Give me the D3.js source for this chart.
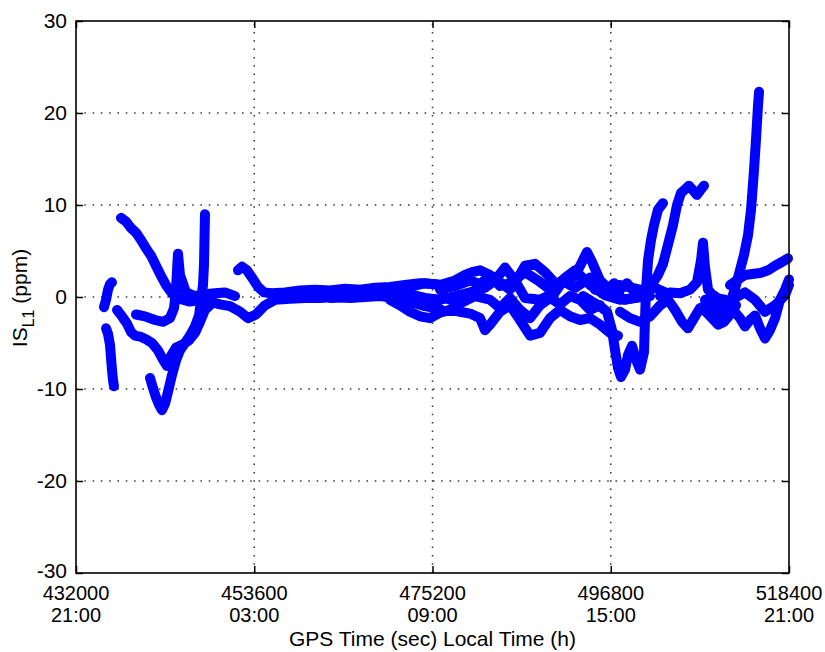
<!DOCTYPE html>
<html>
<head>
<meta charset="utf-8">
<script src="https://cdn.jsdelivr.net/npm/d3@7"></script>
<style>
  body { margin: 0; background: #fff; }
  text { font-family: "Liberation Sans", Arial, Helvetica, sans-serif; }
</style>
</head>
<body>
<svg id="chart" width="825" height="652"></svg>
<script>
// Axis ticks
const xTickValues = [432000, 453600, 475200, 496800, 518400];
const xTickLocal  = ["21:00", "03:00", "09:00", "15:00", "21:00"];
const yTickValues = [-30, -20, -10, 0, 10, 20, 30];

// IS_L1 tracks: GPS time (s) and value (ppm)
const t1Time = [437450,438060,438660,439270,439880,440480,441090,441690,442300,442910,443630,444600,445810,447030,448240,449450,450660,451870,452840,453810,454900,456110,457930,459750,461570,463390,465200,467020,468840,470660,472470,474290,476110];
const t1Is   = [8.6,8.2,7.5,7.0,6.2,5.3,4.5,3.4,2.3,1.3,0.4,-0.2,-0.5,-0.3,-0.5,-0.8,-1.0,-1.6,-2.3,-1.9,-0.9,-0.3,-0.2,-0.1,-0.1,0.0,-0.1,0.0,0.1,-0.1,-0.5,-1.0,-1.3];

const t2Time = [440970,441330,441690,442060,442420,442790,443150,443630,444120,444600,445210,445810,446420,446910,447150,447390,447510,447570,447630];
const t2Is   = [-8.8,-9.9,-10.9,-11.7,-12.3,-11.6,-10.3,-8.5,-6.9,-5.8,-5.0,-4.2,-3.2,-2.0,-0.3,1.3,3.5,6.2,9.0];

const t3Time = [439270,440360,441570,442540,443390,443880,444120,444240,444360,444600,445330,446420,447630,448840,450060,451270];
const t3Is   = [-1.9,-2.1,-2.5,-2.7,-2.3,-1.2,0.8,2.9,4.7,2.4,0.5,0.1,0.3,0.4,0.5,0.1];

const t4Time = [451630,452120,452720,453330,454060,454780,455750,457330,459140,460960,462780,464600,466420,468230,470050,471870,473690,475500,477320];
const t4Is   = [2.9,3.3,2.9,2.1,1.1,0.5,0.4,0.5,0.7,0.8,0.7,0.9,0.8,1.0,1.1,1.3,1.5,1.4,1.2];

const t5Time = [435640,435880,436120,436240,436360,436480,436600];
const t5Is   = [-3.4,-4.0,-5.2,-6.6,-7.9,-9.0,-9.7];

const t6Time = [435390,435640,435880,436120,436360];
const t6Is   = [-1.1,-0.3,0.8,1.4,1.6];

const t7Time = [436970,437570,438180,438660,439150,439760,440480,441210,441940,442540,443030,443510,444120,444850,445690,446420,447030,447630,448480];
const t7Is   = [-1.4,-2.1,-2.9,-3.8,-4.2,-4.3,-4.6,-5.0,-5.8,-6.8,-7.5,-6.4,-5.5,-5.2,-4.7,-3.9,-2.7,-1.4,-0.7];

const t8Time = [468840,470660,472470,474290,476110,477930,479140,479990,480960,482170,483380,484590,485560,486410,487620,488830,490050,491260,492470,493320,493920,494530,495500,496710,497920];
const t8Is   = [0.5,0.8,1.1,1.5,1.3,1.8,2.4,2.7,2.9,2.4,1.6,0.8,2.1,3.4,3.6,2.7,1.5,1.6,2.3,3.8,4.9,3.8,1.8,0.8,0.1];

const t9Time = [470050,471260,472470,473690,474900,476110,477320,478530,479750,480960,481560,482170,483380,484590,485800,487020,488230,489440,490650,491860,493080,494290,495500,496710,497680];
const t9Is   = [-0.3,-0.9,-1.6,-2.1,-2.3,-1.7,-1.4,-1.6,-1.8,-2.3,-3.6,-3.0,-1.6,-0.9,-2.5,-4.2,-3.9,-2.3,-1.4,-2.1,-2.5,-2.3,-3.0,-3.9,-4.2];

const t10Time = [462780,465200,467630,470050,472470,474290,476110,477930,479750,481560,482770,483990,485200,486410,488230,490050,491260,492470,494290,496100,497920,499740,501560];
const t10Is   = [-0.1,0.0,0.2,0.4,0.3,-0.1,-0.3,0.1,0.5,1.0,1.8,3.2,1.8,-0.1,-0.3,0.5,2.1,2.9,1.3,0.2,-0.3,-0.1,0.1];

const t11Time = [493440,494530,495500,496350,496950,497320,497680,498040,498530,498890,499380,499860,500350,500830,500950,501070,501320,501680,502040,502530,503130];
const t11Is   = [0.1,-0.5,-1.0,-1.6,-3.6,-5.8,-7.7,-8.7,-7.9,-6.3,-5.3,-6.8,-7.9,-6.0,-2.5,0.8,4.0,6.2,7.8,9.5,10.2];

const t12Time = [498530,499740,500950,501800,502530,503130,503740,504340,504830,505310,505800,506280,506770,507250,507740,508100];
const t12Is   = [-0.3,-0.1,0.5,1.4,2.4,3.6,5.7,7.8,10.0,11.3,11.7,12.1,11.6,11.1,11.7,12.1];

const t13Time = [502770,503980,505190,506410,507250,507740,507980,508220,508590,509430,510650];
const t13Is   = [0.1,0.5,0.4,0.8,1.6,4.0,5.9,3.2,0.8,-0.1,-0.3];

const t14Time = [507620,508830,509800,510530,511010,511490,511980,512460,512950,513430,513800,514160,514400,514650,514770];
const t14Is   = [-1.4,-0.3,-0.8,-2.1,-1.4,-0.1,1.3,2.9,4.6,6.7,9.5,13.8,17.1,20.9,22.3];

const t15Time = [511250,512220,513070,513920,514890,515860,516710,517550,518280];
const t15Is   = [1.3,1.9,2.4,2.5,2.6,2.9,3.4,3.8,4.2];

const t16Time = [508220,509070,510040,510890,511620,512460,513070,513680,514280,514890,515490,516100,516710,517310,517920,518400];
const t16Is   = [-0.3,-1.4,-2.5,-2.3,-1.4,-2.3,-3.2,-2.5,-2.0,-3.4,-4.5,-3.6,-2.3,-0.3,0.8,1.9];

const t17Time = [497920,499130,500350,501560,502770,503740,504590,505440,506160,506890,507620,508340,509070,509800,510530,511250,511980];
const t17Is   = [-1.6,-2.3,-2.7,-2.1,-0.9,-0.3,-1.4,-2.7,-3.4,-2.3,-1.2,-1.6,-2.3,-3.0,-2.7,-1.9,-0.9];

const t18Time = [494890,495740,496470,497200,497920,498770,499740,500950,502160,503380];
const t18Is   = [0.8,1.5,0.8,1.5,0.8,1.5,0.5,0.8,1.0,0.5];

const t19Time = [474900,476720,478530,480350,482170,483380,484590,485800,487020,488230,489440,490650,491860,493080,494290,495500];
const t19Is   = [-0.5,-0.1,-0.7,0.1,-0.3,-1.2,-0.1,-1.4,-2.3,-0.9,-0.1,-0.8,0.1,-0.3,-1.4,-0.9];

const t20Time = [476110,477930,479750,480960,482170,483380,484830,486410,487990,489440,490890,492470,494290,496100,497920,500350];
const t20Is   = [0.8,1.2,1.8,1.4,2.3,1.2,1.6,2.7,1.8,0.8,1.8,1.0,2.1,1.0,1.3,0.8];

const t21Time = [509430,510650,511860,513070,514280,515490,516710,517920,518400];
const t21Is   = [0.1,-0.9,-0.1,0.5,-0.3,-1.6,-0.9,0.2,1.3];

const tracks = [
  [t1Time, t1Is], [t2Time, t2Is], [t3Time, t3Is], [t4Time, t4Is], [t5Time, t5Is],
  [t6Time, t6Is], [t7Time, t7Is], [t8Time, t8Is], [t9Time, t9Is], [t10Time, t10Is],
  [t11Time, t11Is], [t12Time, t12Is], [t13Time, t13Is], [t14Time, t14Is], [t15Time, t15Is],
  [t16Time, t16Is], [t17Time, t17Is], [t18Time, t18Is], [t19Time, t19Is], [t20Time, t20Is],
  [t21Time, t21Is]
].map(([ts, vs]) => ts.map((t, i) => [t, vs[i]]));

// Layout
const L = 76, R = 789, T = 21, B = 573;
const svg = d3.select("#chart");
svg.append("rect").attr("width", 825).attr("height", 652).attr("fill", "#fff");

const x = d3.scaleLinear().domain([432000, 518400]).range([L, R]);
const y = d3.scaleLinear().domain([-30, 30]).range([B, T]);

// Dotted grid
const grid = svg.append("g")
  .attr("stroke", "#333").attr("stroke-width", 1.5).attr("stroke-dasharray", "1.5,6.8");
grid.selectAll("line.gx").data(xTickValues.slice(1, -1)).join("line")
  .attr("x1", d => x(d)).attr("x2", d => x(d)).attr("y1", B).attr("y2", T);
grid.selectAll("line.gy").data(yTickValues.slice(1, -1)).join("line")
  .attr("y1", d => y(d)).attr("y2", d => y(d)).attr("x1", L).attr("x2", R);

// Data tracks
const line = d3.line().x(d => x(d[0])).y(d => y(d[1]));
svg.append("g").selectAll("path").data(tracks).join("path")
  .attr("d", line)
  .attr("fill", "none")
  .attr("stroke", "#0000ff")
  .attr("stroke-width", 10)
  .attr("stroke-linejoin", "round")
  .attr("stroke-linecap", "round");

// Axes with inward ticks on all four sides
const axB = svg.append("g").attr("transform", `translate(0,${B})`)
  .call(d3.axisBottom(x).tickValues(xTickValues).tickSize(-7).tickSizeOuter(0).tickFormat(""));
const axT = svg.append("g").attr("transform", `translate(0,${T})`)
  .call(d3.axisTop(x).tickValues(xTickValues).tickSize(-7).tickSizeOuter(0).tickFormat(""));
const axL = svg.append("g").attr("transform", `translate(${L},0)`)
  .call(d3.axisLeft(y).tickValues(yTickValues).tickSize(-7).tickSizeOuter(0).tickPadding(9).tickFormat(d => String(d)));
const axR = svg.append("g").attr("transform", `translate(${R},0)`)
  .call(d3.axisRight(y).tickValues(yTickValues).tickSize(-7).tickSizeOuter(0).tickFormat(""));

[axB, axT, axL, axR].forEach(g => {
  g.select(".domain").remove();
  g.selectAll(".tick line").attr("stroke", "#000").attr("stroke-width", 1.5);
});
axL.selectAll(".tick text")
  .attr("font-size", 21).attr("fill", "#000")
  .attr("font-family", "'Liberation Sans', Arial, sans-serif")
  .attr("dy", d => d === -30 ? "0.2em" : "0.32em");

// Box
svg.append("rect").attr("x", L).attr("y", T).attr("width", R - L).attr("height", B - T)
  .attr("fill", "none").attr("stroke", "#000").attr("stroke-width", 1.6);

// Two-line x tick labels: GPS seconds and local time
const xl = svg.append("g").attr("font-size", 20).attr("text-anchor", "middle").attr("fill", "#000");
const xt = xl.selectAll("text").data(xTickValues).join("text")
  .attr("x", d => x(d)).attr("y", 600);
xt.append("tspan").attr("x", d => x(d)).text(d => d);
xt.append("tspan").attr("x", d => x(d)).attr("dy", 22).text((d, i) => xTickLocal[i]);

// Axis titles
svg.append("text")
  .attr("x", (L + R) / 2).attr("y", 646)
  .attr("text-anchor", "middle").attr("font-size", 21).attr("fill", "#000")
  .text("GPS Time (sec) Local Time (h)");

const yl = svg.append("text")
  .attr("transform", `translate(27,298) rotate(-90)`)
  .attr("text-anchor", "middle").attr("font-size", 21).attr("fill", "#000");
yl.append("tspan").text("IS");
yl.append("tspan").attr("dy", 7).attr("font-size", 16).text("L1");
yl.append("tspan").attr("dy", -7).text(" (ppm)");
</script>
</body>
</html>
